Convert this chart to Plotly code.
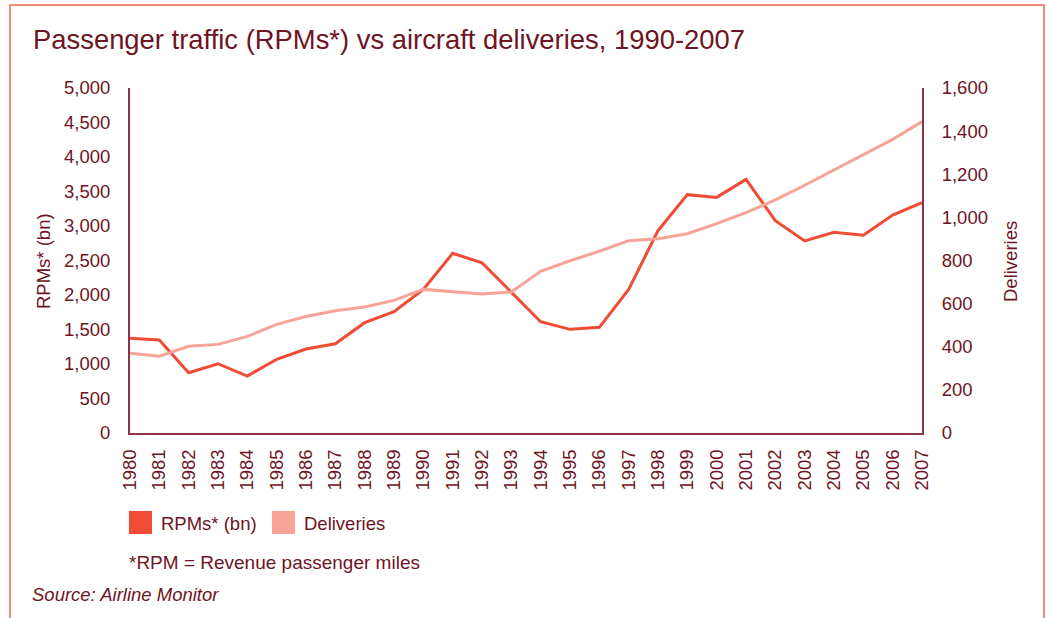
import plotly.graph_objects as go

years = list(range(1980, 2008))
rpms_bn = [1372, 1348, 874, 1004, 826, 1068, 1217, 1294, 1599, 1758,
           2082, 2604, 2468, 2044, 1613, 1502, 1531, 2082, 2932, 3454,
           3415, 3676, 3077, 2783, 2908, 2865, 3159, 3338]
deliveries = [370, 356, 402, 411, 448, 504, 540, 567, 584, 615,
              666, 655, 645, 654, 750, 799, 843, 892, 901, 924,
              971, 1022, 1081, 1149, 1220, 1294, 1362, 1444]

left_ticks = [0, 500, 1000, 1500, 2000, 2500, 3000, 3500, 4000, 4500, 5000]
right_ticks = [0, 200, 400, 600, 800, 1000, 1200, 1400, 1600]

TEXT = "#6e1423"
AXIS = "#8a3445"
RED = "#f04b35"
PINK = "#f7a396"
FONT = "Liberation Sans, Arial, sans-serif"
FS = 18.5

fig = go.Figure()
fig.add_trace(go.Scatter(x=years, y=deliveries, mode="lines", yaxis="y2",
                         line=dict(color=PINK, width=3), name="Deliveries",
                         showlegend=False))
fig.add_trace(go.Scatter(x=years, y=rpms_bn, mode="lines", yaxis="y",
                         line=dict(color=RED, width=3), name="RPMs* (bn)",
                         showlegend=False))

W, H = 1051, 618
L, R, T, B = 130, 129, 88, 185
PW, PH = W - L - R, H - T - B

fig.update_layout(
    width=W, height=H,
    margin=dict(l=L, r=R, t=T, b=B, pad=0),
    paper_bgcolor="white", plot_bgcolor="white",
    font=dict(family=FONT, color=TEXT, size=FS),
    xaxis=dict(range=[1980, 2007], tickvals=years, ticktext=[str(y) for y in years],
               tickangle=-90, showgrid=False, zeroline=False,
               showline=True, linecolor=AXIS, linewidth=2,
               ticks="", ticklabelstandoff=7, tickfont=dict(size=FS, color=TEXT)),
    yaxis=dict(range=[0, 5000], tickvals=left_ticks,
               ticktext=[f"{v:,}" for v in left_ticks],
               showgrid=False, zeroline=False, showline=True,
               linecolor=AXIS, linewidth=2, ticks="", ticklabelstandoff=14,
               tickfont=dict(size=FS, color=TEXT)),
    yaxis2=dict(range=[0, 1600], tickvals=right_ticks,
                ticktext=[f"{v:,}" for v in right_ticks],
                overlaying="y", side="right", showgrid=False, zeroline=False,
                showline=True, linecolor=AXIS, linewidth=2, ticks="",
                ticklabelstandoff=14, tickfont=dict(size=FS, color=TEXT)),
    showlegend=False,
)

# convert page pixels to paper coordinates (paper = plot area)
def px_x(p):
    return (p - L) / PW

def px_y(p):
    return (H - B - p) / PH

annotations = [
    dict(text="Passenger traffic (RPMs*) vs aircraft deliveries, 1990-2007",
         x=px_x(31), y=px_y(40), xanchor="left", yanchor="middle",
         font=dict(size=27.4, color=TEXT)),
    dict(text="RPMs* (bn)", x=px_x(43), y=px_y(261), textangle=-90,
         xanchor="center", yanchor="middle", font=dict(size=FS, color=TEXT)),
    dict(text="Deliveries", x=px_x(1010), y=px_y(262), textangle=-90,
         xanchor="center", yanchor="middle", font=dict(size=FS, color=TEXT)),
    dict(text="RPMs* (bn)", x=px_x(159), y=px_y(523), xanchor="left",
         yanchor="middle", font=dict(size=FS, color=TEXT)),
    dict(text="Deliveries", x=px_x(302), y=px_y(523), xanchor="left",
         yanchor="middle", font=dict(size=FS, color=TEXT)),
    dict(text="*RPM = Revenue passenger miles", x=px_x(127), y=px_y(562),
         xanchor="left", yanchor="middle", font=dict(size=19, color=TEXT)),
    dict(text="<i>Source: Airline Monitor</i>", x=px_x(30), y=px_y(594),
         xanchor="left", yanchor="middle", font=dict(size=FS, color=TEXT)),
]
for a in annotations:
    a.update(xref="paper", yref="paper", showarrow=False)
fig.update_layout(annotations=annotations)

shapes = [
    # outer frame
    dict(type="rect", xref="paper", yref="paper",
         x0=px_x(10), x1=px_x(1044), y0=px_y(640), y1=px_y(5),
         line=dict(color="#f28b78", width=2), fillcolor="rgba(0,0,0,0)"),
    # legend swatches
    dict(type="rect", xref="paper", yref="paper",
         x0=px_x(129), x1=px_x(152), y0=px_y(534), y1=px_y(511),
         line=dict(width=0), fillcolor=RED),
    dict(type="rect", xref="paper", yref="paper",
         x0=px_x(272), x1=px_x(295), y0=px_y(534), y1=px_y(511),
         line=dict(width=0), fillcolor=PINK),
]
fig.update_layout(shapes=shapes)

fig.write_html("out.html")
